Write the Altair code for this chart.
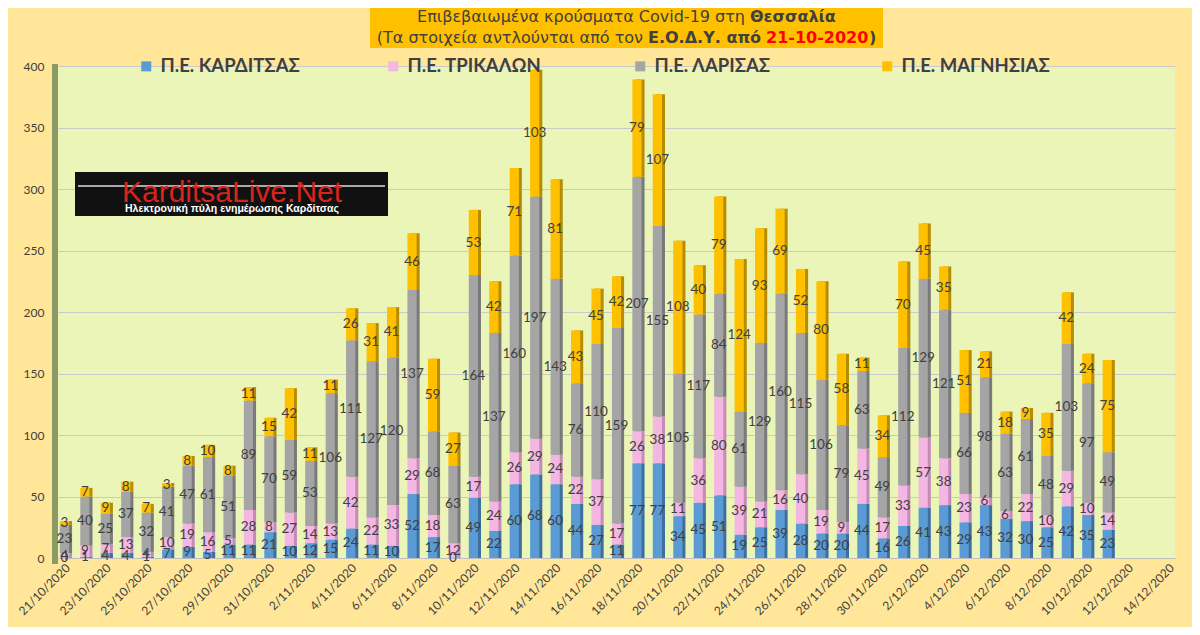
import altair as alt
import pandas as pd

# ---------------- data ----------------
dates = [f"{d.day}/{d.month}/{d.year}" for d in pd.date_range("2020-10-21", "2020-12-14")]
tick_dates = dates[::2]

series_names = ["Π.Ε. ΚΑΡΔΙΤΣΑΣ", "Π.Ε. ΤΡΙΚΑΛΩΝ", "Π.Ε. ΛΑΡΙΣΑΣ", "Π.Ε. ΜΑΓΝΗΣΙΑΣ"]

kard = [0, 1, 4, 4, 1, 7, 9, 5, 11, 11, 21,
        10, 12, 15, 24, 11, 10, 52, 17, 0, 49, 22, 60, 68, 60, 44, 27, 11, 77, 77, 34,
        45, 51, 19, 25, 39, 28, 20, 20, 44, 16,
        26, 41, 43, 29, 43, 32, 30, 25, 42, 35, 23]
trik = [4, 9, 7, 13, 4, 10, 19, 16, 5, 28, 8,
        27, 14, 13, 42, 22, 33, 29, 18, 12, 17, 24, 26, 29, 24, 22, 37, 17, 26, 38, 11,
        36, 80, 39, 21, 16, 40, 19, 9, 45, 17,
        33, 57, 38, 23, 6, 6, 22, 10, 29, 10, 14]
lar = [23, 40, 25, 37, 32, 41, 47, 61, 51, 89, 70,
       59, 53, 106, 111, 127, 120, 137, 68, 63, 164, 137, 160, 197, 143, 76, 110, 159, 207, 155, 105,
       117, 84, 61, 129, 160, 115, 106, 79, 63, 49,
       112, 129, 121, 66, 98, 63, 61, 48, 103, 97, 49]
mag = [3, 7, 9, 8, 7, 3, 8, 10, 8, 11, 15,
       42, 11, 11, 26, 31, 41, 46, 59, 27, 53, 42, 71, 103, 81, 43, 45, 42, 79, 107, 108,
       40, 79, 124, 93, 69, 52, 80, 58, 11, 34,
       70, 45, 35, 51, 21, 18, 9, 35, 42, 24, 75]

rows = []
for si, (name, vals) in enumerate(zip(series_names, [kard, trik, lar, mag])):
    for d, v in zip(dates, vals):
        rows.append({"date": d, "series": name, "value": v, "order": si})
df = pd.DataFrame(rows)

# ---------------- style ----------------
face_colors = ["#5B9BD5", "#F4B6E2", "#A5A5A5", "#FFC000"]
side_colors = ["#3F6F9E", "#C68AB6", "#7A7A7A", "#B88C00"]
W, H = 1117, 492

xscale = alt.Scale(domain=dates, paddingInner=0.55, paddingOuter=0.09)
xenc = alt.X("date:N", scale=xscale,
             axis=alt.Axis(values=tick_dates, labelAngle=-45, title=None, ticks=False,
                           labelFontSize=12, labelColor="#404040", labelFont="Lato",
                           labelPadding=4, domainColor="#BFBFBF", grid=False))
yscale = alt.Scale(domain=[0, 400], nice=False)

base = alt.Chart(df)

side = base.mark_bar(xOffset=3).encode(
    x=xenc,
    y=alt.Y("value:Q", stack="zero", scale=yscale, title=None),
    color=alt.Color("series:N", scale=alt.Scale(domain=series_names, range=side_colors), legend=None),
    order=alt.Order("order:Q", sort="ascending"),
)

face = base.mark_bar().encode(
    x=xenc,
    y=alt.Y("value:Q", stack="zero", scale=yscale, title=None,
            axis=alt.Axis(values=[0, 50, 100, 150, 200, 250, 300, 350, 400], ticks=False, domain=False,
                          labelFontSize=12, labelColor="#404040", labelFont="Lato", labelPadding=14,
                          gridColor="#CACACA", gridWidth=1.2)),
    color=alt.Color("series:N", scale=alt.Scale(domain=series_names, range=face_colors),
                    legend=alt.Legend(title=None, orient="none", direction="horizontal", columns=4,
                                      gridAlign="all", columnPadding=75, legendX=79, legendY=-9,
                                      symbolType="square", symbolSize=100, symbolStrokeWidth=0,
                                      labelFont="Lato", labelFontWeight="bold", labelFontSize=18.5,
                                      labelColor="#404040", labelOffset=5, labelLimit=400)),
    order=alt.Order("order:Q", sort="ascending"),
)

labels = base.transform_stack(
    stack="value", groupby=["date"], as_=["v0", "v1"], sort=[alt.SortField("order", order="ascending")]
).transform_calculate(mid="(datum.v0 + datum.v1) / 2").mark_text(
    font="Lato", fontSize=13.5, color="#404040"
).encode(
    x=alt.X("date:N", scale=xscale),
    y=alt.Y("mid:Q", scale=yscale),
    text=alt.Text("value:Q"),
)

one = pd.DataFrame({"k": [0]})


def deco_text(txt, x, y, align="center", size=16, weight="normal", color="#404040", font="DejaVu Sans"):
    return alt.Chart(one).mark_text(text=txt, align=align, baseline="middle", fontSize=size,
                                    fontWeight=weight, color=color, font=font).encode(
        x=alt.value(x), y=alt.value(y))


# left 3D wall
wall = alt.Chart(one).mark_rect(color="#8C9A66").encode(
    x=alt.value(-6), x2=alt.value(0), y=alt.value(-2), y2=alt.value(H + 6))

# title box
title_box = alt.Chart(one).mark_rect(color="#FFC000").encode(
    x=alt.value(312), x2=alt.value(825), y=alt.value(-61), y2=alt.value(-18))
t1a = deco_text("Επιβεβαιωμένα κρούσματα Covid-19 στη", 687, -49, align="right")
t1b = deco_text("Θεσσαλία", 692, -49, align="left", weight="bold")
t2a = deco_text("(Τα στοιχεία αντλούνται από τον", 585, -28, align="right")
t2b = deco_text("Ε.Ο.Δ.Υ. από", 590, -28, align="left", weight="bold")
t2c = deco_text("21-10-2020", 708, -28, align="left", weight="bold", color="#FF0000")
t2d = deco_text(")", 811, -28, align="left", weight="bold")

# logo
logo_box = alt.Chart(one).mark_rect(color="#111111").encode(
    x=alt.value(17), x2=alt.value(330), y=alt.value(106), y2=alt.value(150))
logo_line = alt.Chart(one).mark_rule(color="#DDDDDD", strokeWidth=1.5).encode(
    x=alt.value(20), x2=alt.value(327), y=alt.value(120))
logo_t1 = deco_text("KarditsaLive.Net", 174, 127, size=30, color="#D8241C", font="Liberation Sans")
logo_t2 = deco_text("Ηλεκτρονική πύλη ενημέρωσης Καρδίτσας", 174, 143, size=10.5, weight="bold",
                    color="#FFFFFF", font="Liberation Sans")

chart = alt.layer(
    wall, side, face, labels, title_box, t1a, t1b, t2a, t2b, t2c, t2d,
    logo_box, logo_line, logo_t1, logo_t2
).resolve_scale(color="independent").properties(
    width=W, height=H,
    autosize=alt.AutoSizeParams(type="none"),
    padding={"left": 50, "top": 58, "right": 17, "bottom": 69},
).configure(background="#FFE699").configure_view(fill="#EBF5B8", stroke=None)

chart.save("out.html", embed_options={"renderer": "svg", "actions": False})
